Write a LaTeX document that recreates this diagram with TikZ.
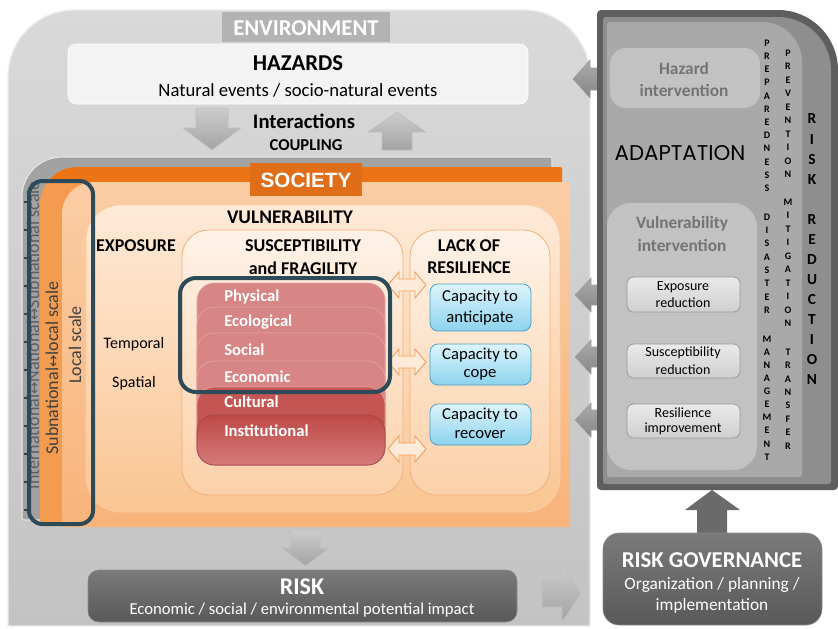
\documentclass[tikz,border=0pt]{standalone}
\usepackage{fontspec}
\setmainfont{Carlito}
\newfontfamily\arialf{Liberation Sans}
\newfontfamily\adaptf{Poppins}
\newfontfamily\symf{DejaVu Sans}
\definecolor{envtop}{HTML}{D9D9D9}
\definecolor{envbot}{HTML}{C3C3C3}
\definecolor{envtab}{HTML}{B3B3B3}
\definecolor{hazbox}{HTML}{F3F3F3}
\definecolor{socgray}{HTML}{A2A2A2}
\definecolor{orD}{HTML}{EC7414}
\definecolor{orM}{HTML}{F39C50}
\definecolor{socTab}{HTML}{E06E18}
\definecolor{lightTop}{HTML}{FBCDA5}
\definecolor{lightBot}{HTML}{F8B47A}
\definecolor{vulTop}{HTML}{FEEAD8}
\definecolor{vulBot}{HTML}{FAC593}
\definecolor{boxEdge}{HTML}{F2B079}
\definecolor{tealc}{HTML}{2C4A58}
\definecolor{redL}{HTML}{D78585}
\definecolor{redLine}{HTML}{E4A3A3}
\definecolor{redD}{HTML}{C45553}
\definecolor{redD2}{HTML}{BE4947}
\definecolor{redB}{HTML}{D47B7A}
\definecolor{capTop}{HTML}{DDF4FC}
\definecolor{capBot}{HTML}{8CD3EE}
\definecolor{capEdge}{HTML}{4E9FBD}
\definecolor{darkbox}{HTML}{595959}
\definecolor{panelA}{HTML}{5E5E5E}
\definecolor{panelB}{HTML}{8E8E8E}
\definecolor{panelC}{HTML}{A9A9A9}
\definecolor{intbox}{HTML}{C2C2C2}
\definecolor{inttext}{HTML}{747474}
\definecolor{rbTop}{HTML}{EAEAEA}
\definecolor{rbBot}{HTML}{CFCFCF}
\definecolor{dblc}{HTML}{F0A05C}
\definecolor{scaletext}{HTML}{5E5E5E}
\definecolor{arrg}{HTML}{A3A3A3}
\definecolor{arrgd}{HTML}{868686}
\definecolor{govarr}{HTML}{6A6A6A}
\newcommand\fsz[1]{\fontsize{#1}{#1}\selectfont}
\begin{document}
\begin{tikzpicture}[x=0.75pt,y=-0.75pt,
  lbl/.style={inner sep=0pt},
  blkarrow/.style={top color=arrg!55!white, bottom color=arrg, draw=arrg!70!white, line width=0.4pt},
  blkarrowd/.style={top color=arrgd!70!white, bottom color=arrgd, draw=arrgd!80!white, line width=0.4pt},
  dblarrow/.style={draw=dblc, fill=vulTop, line width=0.7pt},
  capbox/.style={top color=capTop, bottom color=capBot, draw=capEdge, line width=0.6pt, rounded corners=6pt},
  redbox/.style={draw=redLine, line width=0.5pt, rounded corners=13pt},
  rbox/.style={top color=rbTop, bottom color=rbBot, draw=gray!80, line width=0.6pt, rounded corners=5pt},
  vl/.style={lbl, font=\bfseries\fsz{7.5}},
  vlb/.style={lbl, font=\bfseries\fsz{11.5}},
  frame/.style={draw=tealc, line width=3pt}
]
\useasboundingbox (0,0) rectangle (838,628);
\fill[white] (0,0) rectangle (838,628);

% ===== ENVIRONMENT =====
\path[top color=envtop, bottom color=envbot, draw=gray!15, line width=1pt]
  (8,626) [rounded corners=50pt] -- (8,10) -- (590,10) [sharp corners] -- (590,626) -- cycle;
\fill[envtab] (222,12) rectangle (390,42);
\node[lbl, text=white, font=\bfseries\fsz{17}] (env) at (306,28) {ENVIRONMENT};

\path[fill=hazbox, draw=white, rounded corners=6pt] (68,44) rectangle (528,104);
\node[lbl, font=\bfseries\fsz{17}] (haz) at (298,63) {HAZARDS};
\node[lbl, font=\fsz{14}] (hazsub) at (298,90) {Natural events / socio-natural events};

% interaction arrows
\path[blkarrow] (196,108) -- (228,108) -- (228,128) -- (241,128) -- (212,150) -- (183,128) -- (196,128) -- cycle;
\path[blkarrow] (397,112) -- (426,132) -- (412,132) -- (412,150) -- (382,150) -- (382,132) -- (368,132) -- cycle;
\node[lbl, font=\bfseries\fsz{15.5}] (inter) at (304,121) {Interactions};
\node[lbl, font=\bfseries\fsz{12.5}] (coup) at (306,145) {COUPLING};

% ===== SOCIETY layers =====
\path[fill=socgray, draw=white!80!gray, line width=0.8pt]
  (22,520) [rounded corners=30pt] -- (22,157) [rounded corners=1pt] -- (552,157) -- (552,520) -- cycle;
\path[fill=orM] (40,522) [rounded corners=28pt] -- (40,167) [rounded corners=1pt] -- (562,167) -- (562,522) -- cycle;
\begin{scope}
  \clip (40,522) [rounded corners=28pt] -- (40,167) [rounded corners=1pt] -- (562,167) -- (562,522) -- cycle;
  \fill[orD] (30,160) rectangle (570,183);
\end{scope}
\path[top color=lightTop, bottom color=lightBot]
  (62,527) [rounded corners=24pt] -- (62,182) [rounded corners=1pt] -- (570,182) -- (570,527) -- cycle;
\fill[socTab] (250,163) rectangle (362,196);
\node[lbl, text=white, font=\arialf\bfseries\fsz{15.5}] (soc) at (306,180) {SOCIETY};

% scale strips
\foreach \t in {0,...,11} \draw[black!75, line width=0.8pt] (24,{202+28*\t}) -- (29,{202+28*\t});
\begin{scope}
  \clip (22,160) rectangle (41,520);
  \node[lbl, rotate=90, text=scaletext, font=\fsz{13.5}] (intl) at (33,335) {International{\symf\fsz{11}↔}National{\symf\fsz{11}↔}Subnational scale};
\end{scope}
\node[lbl, rotate=90, text=black!75, font=\fsz{13.5}] (subn) at (52,368) {Subnational{\symf\fsz{11}↔}local scale};
\node[lbl, rotate=90, text=black!75, font=\fsz{13.5}] (locs) at (75,345) {Local scale};

% vulnerability box
\path[top color=vulTop, bottom color=vulBot, draw=boxEdge!60, line width=0.5pt, rounded corners=26pt] (86,205) rectangle (560,512);
\node[lbl, font=\bfseries\fsz{14.5}] (vul) at (290,217) {VULNERABILITY};
\node[lbl, font=\bfseries\fsz{13.5}] (expo) at (136,246) {EXPOSURE};
\node[lbl, font=\fsz{12}] (temp) at (134,344) {Temporal};
\node[lbl, font=\fsz{12}] (spat) at (134,383) {Spatial};

% susceptibility and resilience boxes
\path[top color=vulTop!60!white, bottom color=vulBot!80!white, draw=boxEdge, line width=0.6pt, rounded corners=20pt] (182,230) rectangle (403,495);
\path[top color=vulTop!60!white, bottom color=vulBot!80!white, draw=boxEdge, line width=0.6pt, rounded corners=20pt] (410,230) rectangle (550,495);
\node[lbl, font=\bfseries\fsz{13.5}] (susc) at (303,246) {SUSCEPTIBILITY};
\node[lbl, font=\bfseries\fsz{13.5}] (frag) at (303,268) {and FRAGILITY};
\node[lbl, font=\bfseries\fsz{13.5}] (lack) at (469,246) {LACK OF};
\node[lbl, font=\bfseries\fsz{13.5}] (resil) at (469,268) {RESILIENCE};

% red stack
\foreach \t in {283,307,333,361} \path[redbox, fill=redL] (197,\t) rectangle (385,465);
\path[redbox, fill=redD] (197,387) rectangle (385,465);
\path[redbox, top color=redD2, bottom color=redB, draw=redD!80!black] (197,415) rectangle (385,465);
\foreach \n/\y/\s in {phys/297/Physical, eco/322/Ecological, soci/350/Social, econ/377/Economic, cult/402/Cultural, inst/431/Institutional}
  \node[lbl, anchor=west, text=white, font=\bfseries\fsz{12.5}] (\n) at (224,\y) {\s};

% double arrows
\foreach \cy in {285,362,449}
  \path[dblarrow] (388,\cy) -- (399,{\cy-13}) -- (399,{\cy-6}) -- (415,{\cy-6}) -- (415,{\cy-13}) -- (426,\cy)
     -- (415,{\cy+13}) -- (415,{\cy+6}) -- (399,{\cy+6}) -- (399,{\cy+13}) -- cycle;

% capacity boxes
\path[capbox] (430,284) rectangle (531,331);
\path[capbox] (430,344) rectangle (531,385);
\path[capbox] (430,404) rectangle (531,445);
\node[lbl, font=\fsz{12.5}] (ca1) at (480,297) {Capacity to};
\node[lbl, font=\fsz{12.5}] (ca2) at (480,318) {anticipate};
\node[lbl, font=\fsz{12.5}] (co1) at (480,355) {Capacity to};
\node[lbl, font=\fsz{12.5}] (co2) at (480,375) {cope};
\node[lbl, font=\fsz{12.5}] (re1) at (480,415) {Capacity to};
\node[lbl, font=\fsz{12.5}] (re2) at (480,435) {recover};

% teal frames
\path[frame, rounded corners=12pt] (180,278) rectangle (390,392);
\path[frame, rounded corners=10pt] (29,181) rectangle (93,524);

% ===== RISK =====
\path[blkarrow] (291,530) -- (320,530) -- (320,548) -- (329,548) -- (305.5,566) -- (282,548) -- (291,548) -- cycle;
\path[top color=darkbox!80!white, bottom color=darkbox, draw=darkbox!70!white, rounded corners=8pt] (88,570) rectangle (517,622);
\node[lbl, text=white, font=\bfseries\fsz{18}] (risk) at (302,587) {RISK};
\node[lbl, text=white, font=\fsz{12.5}] (risksub) at (302,610) {Economic / social / environmental potential impact};
\path[blkarrow] (542,580) -- (562,580) -- (562,565) -- (581,593) -- (562,622) -- (562,607) -- (542,607) -- cycle;

% ===== panel arrows (left pointing) =====
\path[blkarrowd] (573,79) -- (590,60) -- (590,68) -- (610,68) -- (610,90) -- (590,90) -- (590,98) -- cycle;
\foreach \cy in {295,357,420}
  \path[blkarrowd] (575,\cy) -- (591,{\cy-17}) -- (591,{\cy-10}) -- (610,{\cy-10}) -- (610,{\cy+10}) -- (591,{\cy+10}) -- (591,{\cy+17}) -- cycle;

% ===== RISK REDUCTION panel =====
\path[fill=panelA] (597,490) [rounded corners=3pt] -- (597,10) [rounded corners=45pt] -- (838,10) [rounded corners=3pt] -- (838,490) -- cycle;
\path[fill=panelB] (603,484) [rounded corners=2pt] -- (603,17) [rounded corners=40pt] -- (831,17) [rounded corners=2pt] -- (831,484) -- cycle;
\path[fill=panelC] (607,477) [rounded corners=2pt] -- (607,22) [rounded corners=30pt] -- (802,22) [rounded corners=2pt] -- (802,477) -- cycle;
\path[fill=intbox, rounded corners=12pt] (610,48) rectangle (760,108);
\node[lbl, text=inttext, font=\bfseries\fsz{13}] (hi1) at (684,68) {Hazard};
\node[lbl, text=inttext, font=\bfseries\fsz{13}] (hi2) at (684,90) {intervention};
\node[lbl, font=\adaptf\fsz{16}] (adapt) at (680,153) {ADAPTATION};
\path[fill=intbox, rounded corners=18pt] (607,203) rectangle (757,470);
\node[lbl, text=inttext, font=\bfseries\fsz{13}] (vi1) at (682,224) {Vulnerability};
\node[lbl, text=inttext, font=\bfseries\fsz{13}] (vi2) at (682,245) {intervention};
\path[rbox] (627,277) rectangle (740,312);
\path[rbox] (627,344) rectangle (740,378);
\path[rbox] (627,404) rectangle (740,438);
\node[lbl, font=\fsz{10.5}] (er1) at (683,287) {Exposure};
\node[lbl, font=\fsz{10.5}] (er2) at (683,303) {reduction};
\node[lbl, font=\fsz{10.5}] (sr1) at (683,353) {Susceptibility};
\node[lbl, font=\fsz{10.5}] (sr2) at (683,370) {reduction};
\node[lbl, font=\fsz{10.5}] (ri1) at (683,413) {Resilience};
\node[lbl, font=\fsz{10.5}] (ri2) at (683,429) {improvement};

% vertical letters
\foreach [count=\i from 0] \l in {P,R,E,P,A,R,E,D,N,E,S,S} \node[vl] (pa\i) at (767,{43+13.2*\i}) {\l};
\foreach [count=\i from 0] \l in {D,I,S,A,S,T,E,R} \node[vl] (da\i) at (767,{217+13.3*\i}) {\l};
\foreach [count=\i from 0] \l in {M,A,N,A,G,E,M,E,N,T} \node[vl] (ma\i) at (767,{339+13.1*\i}) {\l};
\foreach [count=\i from 0] \l in {P,R,E,V,E,N,T,I,O,N} \node[vl] (pv\i) at (788,{53+13.5*\i}) {\l};
\foreach [count=\i from 0] \l in {M,I,T,I,G,A,T,I,O,N} \node[vl] (mi\i) at (788,{202+13.5*\i}) {\l};
\foreach [count=\i from 0] \l in {T,R,A,N,S,F,E,R} \node[vl] (tr\i) at (788,{352+13.4*\i}) {\l};
\foreach [count=\i from 0] \l in {R,I,S,K} \node[vlb] (rk\i) at (812,{119+20.3*\i}) {\l};
\foreach [count=\i from 0] \l in {R,E,D,U,C,T,I,O,N} \node[vlb] (rd\i) at (812,{220+19.9*\i}) {\l};

% ===== RISK GOVERNANCE =====
\path[fill=govarr] (697,533) -- (697,510) -- (685,510) -- (712,490) -- (740,510) -- (727,510) -- (727,533) -- cycle;
\path[top color=darkbox!80!white, bottom color=darkbox, draw=darkbox!70!white, rounded corners=12pt] (603,533) rectangle (822,625);
\node[lbl, text=white, font=\bfseries\fsz{17}] (gov) at (712,560) {RISK GOVERNANCE};
\node[lbl, text=white, font=\fsz{13}] (gov2) at (712,585) {Organization / planning /};
\node[lbl, text=white, font=\fsz{13}] (gov3) at (712,606) {implementation};
\end{tikzpicture}
\end{document}
